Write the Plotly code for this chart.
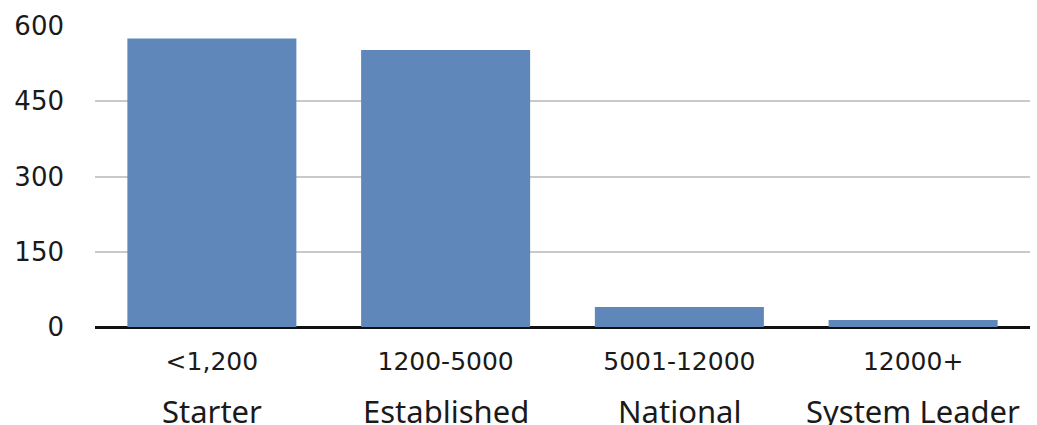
import plotly.graph_objects as go

# Member counts per tier
ranges = ["<1,200", "1200-5000", "5001-12000", "12000+"]
tiers = ["Starter", "Established", "National", "System Leader"]
counts = [575, 552, 40, 14]
y_ticks = [0, 150, 300, 450, 600]

NUM_FONT = "DejaVu Sans"
NAME_FONT = "Noto Sans"
TEXT = "#1a1a1a"

fig = go.Figure(
    go.Bar(
        x=ranges,
        y=counts,
        marker=dict(color="#5f87b9", line=dict(width=0)),
        hoverinfo="skip",
    )
)

# Tier names as a second, larger row of category labels
for r, t in zip(ranges, tiers):
    fig.add_annotation(
        x=r, xref="x", y=-0.278, yref="paper",
        text=t, showarrow=False,
        font=dict(family=NAME_FONT, size=31, color=TEXT),
        xanchor="center", yanchor="middle",
    )

fig.update_layout(
    width=1037, height=425,
    margin=dict(l=95, r=7, t=26, b=98),
    paper_bgcolor="white", plot_bgcolor="white",
    bargap=0.277,
    showlegend=False,
    font=dict(family=NUM_FONT, color=TEXT),
)
fig.update_xaxes(
    tickfont=dict(family=NUM_FONT, size=25, color=TEXT),
    showgrid=False, showline=False, ticks="",
    ticklabelstandoff=17,
)
fig.update_yaxes(
    range=[0, 600],
    tickvals=y_ticks,
    tickfont=dict(family=NUM_FONT, size=26, color=TEXT),
    showgrid=True, gridcolor="#c9c9c9", gridwidth=1.5,
    zeroline=True, zerolinecolor="#111111", zerolinewidth=2.5,
    showline=False, ticks="",
    ticklabelstandoff=30,
)

fig.write_html("out.html")
